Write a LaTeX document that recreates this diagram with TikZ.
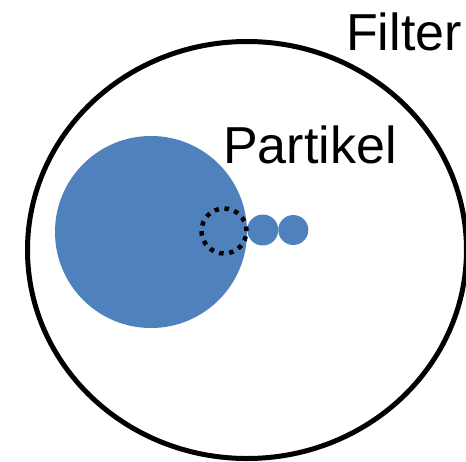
\documentclass[tikz,border=0pt]{standalone}
\usepackage{fontspec}
\setmainfont{Liberation Sans}
\usetikzlibrary{shapes.geometric}
\definecolor{partblue}{HTML}{4F81BD}
\tikzset{
  filterring/.style={ellipse, draw=black, line width=5pt, inner sep=0pt,
    minimum width=439pt, minimum height=417pt},
  grain/.style={circle, fill=partblue, inner sep=0pt, draw=none},
  contact/.style={circle, draw=black, line width=4.5pt, inner sep=0pt,
    minimum size=45pt, dash pattern=on 4.5pt off 5.6pt},
  caption/.style={anchor=base west, inner sep=0pt, font=\fontsize{52}{60}\selectfont}
}
\begin{document}
\begin{tikzpicture}[x=1pt, y=-1pt]
  \useasboundingbox[fill=white] (0,0) rectangle (466,461);
  % filter outline
  \node[filterring] (filter) at (247,250) {};
  % large particle and two small ones beside it
  \node[grain, minimum size=192pt] (big) at (151,232) {};
  \node[grain, minimum size=31pt] (small1) at (262.8,230) {};
  \node[grain, minimum size=30pt] (small2) at (293.3,230) {};
  % contact zone
  \node[contact] (zone) at (224,231) {};
  % labels
  \node[caption] (lfilter) at (346,50) {Filter};
  \node[caption] (lpart) at (223,163) {Partikel};
\end{tikzpicture}
\end{document}
